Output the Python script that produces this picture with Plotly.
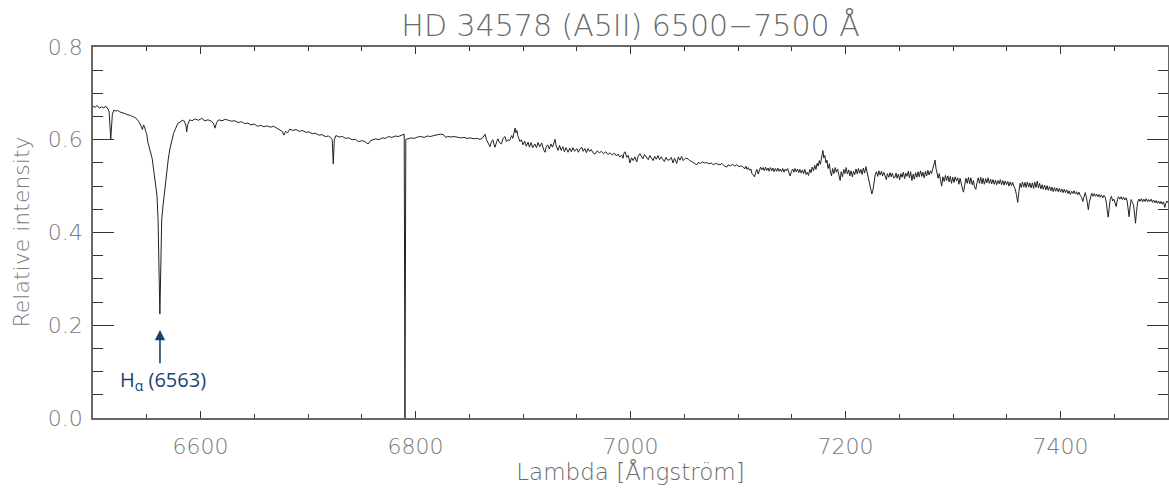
import plotly.graph_objects as go

# ---- data (wavelength [Å], relative intensity) ----
SEG_BLUE_HALPHA = [
    (6500, 0.672), (6502, 0.670), (6504, 0.674), (6506, 0.668), (6508, 0.671), (6510, 0.669),
    (6512, 0.672), (6514, 0.666), (6515, 0.660), (6516.5, 0.600), (6518, 0.655), (6519.5, 0.664),
    (6521, 0.662), (6523, 0.663), (6525, 0.660), (6527, 0.659), (6529, 0.657), (6531, 0.655),
    (6533, 0.654), (6535, 0.652), (6537, 0.650), (6539, 0.648), (6541, 0.644), (6543, 0.638),
    (6545, 0.628), (6546, 0.622), (6547, 0.632), (6548, 0.628), (6549, 0.618), (6550, 0.612),
    (6551, 0.595), (6553, 0.575), (6555, 0.560), (6557, 0.525), (6558.5, 0.500), (6559.5, 0.480),
    (6560.5, 0.430), (6561.3, 0.330), (6562.2, 0.224), (6563.1, 0.330), (6563.9, 0.427),
    (6565, 0.455), (6567, 0.499), (6568.5, 0.530), (6570, 0.558), (6571.5, 0.580), (6573, 0.598),
    (6575, 0.614), (6577, 0.625), (6579, 0.636), (6581, 0.638), (6583, 0.642), (6585, 0.640),
    (6586.5, 0.630), (6587.2, 0.617), (6588, 0.632), (6590, 0.643),
]
SEG_6590_6860 = [
    (6592, 0.641), (6595, 0.645), (6598, 0.642), (6601, 0.646), (6604, 0.641), (6607, 0.643),
    (6610, 0.640), (6612, 0.636), (6613.5, 0.625), (6615, 0.637), (6617, 0.643), (6620, 0.641),
    (6623, 0.644), (6626, 0.642), (6629, 0.640), (6632, 0.641), (6635, 0.637), (6638, 0.639),
    (6641, 0.635), (6644, 0.636), (6647, 0.632), (6650, 0.634), (6653, 0.629), (6656, 0.631),
    (6659, 0.628), (6662, 0.630), (6665, 0.627), (6668, 0.629), (6671, 0.625), (6674, 0.622),
    (6676, 0.618), (6677.7, 0.610), (6679, 0.618), (6681, 0.615), (6683, 0.623), (6686, 0.620),
    (6689, 0.622), (6692, 0.618), (6695, 0.620), (6698, 0.616), (6701, 0.617), (6704, 0.613),
    (6707, 0.614), (6710, 0.610), (6713, 0.611), (6716, 0.607), (6719, 0.608), (6721, 0.605),
    (6722.5, 0.600), (6723.5, 0.548), (6724.5, 0.600), (6726, 0.609), (6729, 0.606), (6732, 0.607),
    (6735, 0.603), (6738, 0.604), (6741, 0.600), (6744, 0.601), (6747, 0.596), (6750, 0.598),
    (6752, 0.597), (6754, 0.594), (6756, 0.591), (6758, 0.598), (6760, 0.600), (6763, 0.602),
    (6766, 0.600), (6769, 0.604), (6772, 0.603), (6775, 0.607), (6778, 0.605), (6781, 0.608),
    (6784, 0.607), (6787, 0.610), (6789.5, 0.612), (6790.2, 0.0), (6791, 0.601), (6793, 0.602),
    (6796, 0.604), (6799, 0.603), (6802, 0.606), (6805, 0.607), (6808, 0.605), (6811, 0.608),
    (6814, 0.607), (6817, 0.609), (6820, 0.610), (6823, 0.612), (6826, 0.611), (6828, 0.605),
    (6830, 0.607), (6833, 0.606), (6836, 0.607), (6839, 0.605), (6842, 0.604), (6845, 0.605),
    (6848, 0.603), (6851, 0.604), (6854, 0.602), (6857, 0.603), (6860, 0.601),
]
SEG_6860_7000 = [
    (6862, 0.603), (6864.7, 0.612), (6866, 0.600), (6867.5, 0.592), (6869.3, 0.585), (6870.5, 0.595),
    (6872, 0.600), (6873, 0.590), (6874, 0.584), (6875.5, 0.596), (6876.7, 0.602), (6878, 0.594),
    (6880, 0.591), (6881.5, 0.603), (6883.3, 0.607), (6884.5, 0.596), (6886, 0.600), (6887.5, 0.598),
    (6889.5, 0.609), (6890.5, 0.603), (6891.5, 0.614), (6892.6, 0.625), (6893.5, 0.615), (6894.3, 0.620),
    (6895, 0.610), (6896, 0.601), (6897.2, 0.596), (6898.5, 0.600), (6900, 0.589), (6901.5, 0.597),
    (6903, 0.586), (6904.7, 0.595), (6906, 0.584), (6907.5, 0.594), (6909, 0.583), (6911, 0.591),
    (6912.5, 0.583), (6914, 0.594), (6915.5, 0.585), (6917.4, 0.593), (6918.5, 0.583), (6919.5, 0.577),
    (6920.5, 0.573), (6921.5, 0.584), (6923, 0.589), (6924.5, 0.580), (6926, 0.591), (6927.5, 0.584),
    (6929, 0.595), (6929.8, 0.601), (6930.8, 0.587), (6932.6, 0.577), (6934, 0.588), (6935.5, 0.577),
    (6937, 0.585), (6938.5, 0.574), (6940, 0.583), (6941.9, 0.573), (6943.5, 0.582), (6945, 0.574),
    (6946.5, 0.583), (6948, 0.575), (6950, 0.581), (6951.5, 0.573), (6953, 0.580), (6954.6, 0.584),
    (6956, 0.575), (6957.5, 0.581), (6959, 0.572), (6960.5, 0.581), (6962, 0.575), (6963.5, 0.579),
    (6965, 0.572), (6967, 0.569), (6969, 0.576), (6971, 0.572), (6973, 0.575), (6975, 0.570),
    (6977, 0.574), (6979, 0.568), (6981, 0.572), (6983, 0.567), (6985, 0.571), (6987, 0.565),
    (6988.4, 0.569), (6990, 0.563), (6992, 0.567), (6993, 0.560), (6994, 0.572), (6995, 0.574),
    (6996.5, 0.562), (6998, 0.566), (6999.5, 0.550),
]
SEG_7000_7105 = [
    (7001, 0.561), (7002.5, 0.555), (7004, 0.563), (7005.8, 0.552), (7007, 0.564), (7008.8, 0.570),
    (7010, 0.565), (7011.5, 0.559), (7013, 0.568), (7015, 0.562), (7016.5, 0.557), (7018, 0.566),
    (7019.5, 0.559), (7021, 0.555), (7022.5, 0.564), (7024, 0.558), (7025.5, 0.566), (7027, 0.557),
    (7028.5, 0.563), (7030, 0.558), (7031.5, 0.553), (7033, 0.562), (7034.5, 0.556), (7036.7, 0.557),
    (7038, 0.562), (7039.5, 0.550), (7041, 0.560), (7043, 0.549), (7044.5, 0.563), (7046, 0.556),
    (7047.5, 0.564), (7049, 0.555), (7051, 0.560), (7053.5, 0.559), (7055, 0.555), (7057, 0.553),
    (7059, 0.550), (7061.6, 0.546), (7063, 0.551), (7065, 0.549), (7067, 0.552), (7069, 0.550),
    (7070.9, 0.551), (7073, 0.548), (7075, 0.550), (7077, 0.546), (7079, 0.549), (7081, 0.547),
    (7083.3, 0.546), (7085, 0.549), (7087, 0.544), (7089.5, 0.541), (7091, 0.546), (7093, 0.544),
    (7095, 0.547), (7097, 0.543), (7098.8, 0.546), (7101, 0.542), (7103, 0.544),
]
SEG_7105_7245 = [
    (7105, 0.541), (7106.2, 0.537), (7107.4, 0.543), (7108.5, 0.536), (7109.6, 0.540), (7110.8, 0.534),
    (7112, 0.537), (7113, 0.527), (7114.2, 0.524), (7115.4, 0.520), (7116.5, 0.530), (7117.6, 0.536),
    (7118.8, 0.526), (7120, 0.533), (7121, 0.541), (7122.2, 0.535), (7123.4, 0.540), (7124.5, 0.533),
    (7125.6, 0.541), (7126.8, 0.534), (7128, 0.539), (7129, 0.532), (7130.2, 0.540), (7131.4, 0.533),
    (7132.5, 0.539), (7133.6, 0.531), (7134.8, 0.538), (7136, 0.532), (7137, 0.539), (7138.2, 0.532),
    (7139.4, 0.537), (7140.5, 0.531), (7141.6, 0.538), (7142.8, 0.530), (7144, 0.537), (7145, 0.533),
    (7146.2, 0.538), (7147.4, 0.529), (7148.5, 0.522), (7149.6, 0.531), (7150.8, 0.537), (7152, 0.530),
    (7153, 0.538), (7154.2, 0.531), (7155.4, 0.537), (7156.5, 0.529), (7157.6, 0.536), (7158.8, 0.528),
    (7160, 0.535), (7161, 0.527), (7162.2, 0.536), (7163.4, 0.525), (7164.5, 0.530), (7165.6, 0.523),
    (7166.8, 0.536), (7168, 0.529), (7169, 0.541), (7170.2, 0.533), (7171.4, 0.545), (7172.5, 0.536),
    (7173.6, 0.549), (7174.6, 0.543), (7175.6, 0.555), (7176.6, 0.547), (7177.6, 0.562), (7178.4, 0.570),
    (7179, 0.577), (7179.8, 0.561), (7180.8, 0.566), (7181.8, 0.550), (7182.8, 0.556), (7183.8, 0.538),
    (7185, 0.548), (7186, 0.530), (7187, 0.522), (7188, 0.538), (7189.2, 0.527), (7190.4, 0.540),
    (7191.5, 0.530), (7192.6, 0.537), (7193.8, 0.522), (7195, 0.512), (7196, 0.531), (7197.2, 0.520),
    (7198.4, 0.536), (7199.5, 0.527), (7200.6, 0.540), (7201.8, 0.526), (7203, 0.535), (7204, 0.522),
    (7205.2, 0.533), (7206.4, 0.520), (7207.5, 0.532), (7208.6, 0.525), (7209.8, 0.537), (7211, 0.526),
    (7212, 0.538), (7213.2, 0.528), (7214.4, 0.536), (7215.5, 0.525), (7216.6, 0.539), (7217.8, 0.528),
    (7219, 0.542), (7220, 0.530), (7221.2, 0.522), (7222.4, 0.508), (7223.5, 0.496), (7224.5, 0.483),
    (7225.4, 0.490), (7226.4, 0.510), (7227.6, 0.524), (7228.8, 0.531), (7230, 0.521), (7231, 0.533),
    (7232.2, 0.524), (7233.4, 0.532), (7234.5, 0.522), (7235.6, 0.530), (7236.8, 0.519), (7238, 0.514),
    (7239, 0.527), (7240.2, 0.519), (7241.4, 0.529), (7242.5, 0.520), (7243.6, 0.528), (7244.8, 0.518),
]
SEG_7245_7500 = [
    (7246, 0.519), (7247, 0.528), (7248, 0.517), (7249.2, 0.526), (7250.4, 0.514), (7251.5, 0.527),
    (7252.6, 0.519), (7253.8, 0.530), (7255, 0.516), (7256, 0.528), (7257.2, 0.521), (7258.4, 0.532),
    (7259.5, 0.518), (7260.6, 0.531), (7261.8, 0.512), (7263, 0.526), (7264, 0.515), (7265.2, 0.529),
    (7266.4, 0.519), (7267.5, 0.531), (7268.6, 0.520), (7269.8, 0.533), (7271, 0.521), (7272, 0.530),
    (7273.2, 0.518), (7274.4, 0.532), (7275.5, 0.522), (7276.6, 0.534), (7277.8, 0.524), (7279, 0.533),
    (7280, 0.527), (7281.2, 0.537), (7282.3, 0.548), (7283.3, 0.556), (7284.2, 0.538), (7285.2, 0.526),
    (7286.2, 0.517), (7287.2, 0.527), (7288.4, 0.512), (7289.5, 0.500), (7290.6, 0.520), (7291.8, 0.510),
    (7293, 0.523), (7294, 0.512), (7295.2, 0.522), (7296.4, 0.509), (7297.5, 0.521), (7298.6, 0.506),
    (7299.8, 0.519), (7301, 0.508), (7302, 0.520), (7303.2, 0.511), (7304.4, 0.518), (7305.5, 0.504),
    (7306.6, 0.517), (7307.8, 0.500), (7309, 0.492), (7309.8, 0.487), (7311, 0.507), (7312, 0.517),
    (7313.2, 0.506), (7314.4, 0.519), (7315.5, 0.505), (7316.6, 0.518), (7317.8, 0.503), (7319, 0.512),
    (7320, 0.498), (7321.2, 0.493), (7322.4, 0.508), (7323.5, 0.518), (7324.6, 0.506), (7325.8, 0.519),
    (7327, 0.505), (7328, 0.517), (7329.2, 0.504), (7330.4, 0.516), (7331.5, 0.507), (7332.6, 0.518),
    (7333.8, 0.506), (7335, 0.515), (7336, 0.505), (7337.2, 0.514), (7338.4, 0.504), (7339.5, 0.513),
    (7340.6, 0.503), (7341.8, 0.512), (7343, 0.505), (7344, 0.514), (7345.2, 0.503), (7346.4, 0.512),
    (7347.5, 0.502), (7348.6, 0.511), (7349.8, 0.503), (7351, 0.510), (7352, 0.500), (7353.2, 0.509),
    (7354.4, 0.501), (7355.5, 0.508), (7356.6, 0.500), (7357.8, 0.494), (7359, 0.482), (7360.2, 0.465),
    (7361.3, 0.488), (7362.4, 0.506), (7363.5, 0.497), (7364.6, 0.509), (7365.8, 0.498), (7367, 0.508),
    (7368, 0.497), (7369.2, 0.509), (7370.4, 0.498), (7371.5, 0.507), (7372.6, 0.496), (7373.8, 0.507),
    (7375, 0.495), (7376, 0.509), (7377.2, 0.497), (7378.4, 0.511), (7379.5, 0.496), (7380.6, 0.506),
    (7381.8, 0.494), (7383, 0.503), (7384, 0.493), (7385.2, 0.502), (7386.4, 0.492), (7387.5, 0.501),
    (7388.6, 0.491), (7389.8, 0.499), (7391, 0.490), (7392, 0.498), (7393.2, 0.488), (7394.4, 0.497),
    (7395.5, 0.489), (7396.6, 0.496), (7397.8, 0.488), (7399, 0.495), (7400, 0.487), (7401.2, 0.494),
    (7402.4, 0.486), (7403.5, 0.493), (7404.6, 0.486), (7405.8, 0.492), (7407, 0.484), (7408, 0.490),
    (7409.2, 0.482), (7410.4, 0.489), (7411.5, 0.484), (7412.6, 0.490), (7413.8, 0.483), (7415, 0.488),
    (7416, 0.481), (7417.2, 0.487), (7418.4, 0.480), (7419.5, 0.476), (7420.8, 0.467), (7422, 0.482),
    (7423, 0.486), (7424.2, 0.475), (7425.2, 0.458), (7425.9, 0.449), (7426.8, 0.465), (7428, 0.481),
    (7429, 0.485), (7430.2, 0.478), (7431.4, 0.484), (7432.5, 0.478), (7433.6, 0.483), (7434.8, 0.477),
    (7436, 0.482), (7437, 0.476), (7438.2, 0.481), (7439.4, 0.475), (7440.5, 0.480), (7441.6, 0.476),
    (7442.8, 0.462), (7443.6, 0.444), (7444.4, 0.433), (7445.3, 0.452), (7446.2, 0.471), (7447.4, 0.478),
    (7448.5, 0.468), (7449.6, 0.472), (7450.8, 0.460), (7451.8, 0.456), (7453, 0.472), (7454, 0.477),
    (7455.2, 0.472), (7456.4, 0.477), (7457.5, 0.471), (7458.6, 0.476), (7459.8, 0.470), (7461, 0.475),
    (7462, 0.468), (7463, 0.452), (7463.8, 0.434), (7464.7, 0.455), (7465.8, 0.471), (7467, 0.464),
    (7468, 0.459), (7469, 0.438), (7469.8, 0.420), (7470.7, 0.445), (7471.8, 0.466), (7473, 0.472),
    (7474, 0.467), (7475.2, 0.473), (7476.4, 0.466), (7477.5, 0.472), (7478.6, 0.467), (7479.8, 0.473),
    (7481, 0.466), (7482, 0.471), (7483.2, 0.467), (7484.4, 0.472), (7485.5, 0.465), (7486.6, 0.470),
    (7487.8, 0.464), (7489, 0.469), (7490, 0.463), (7491.2, 0.468), (7492.4, 0.462), (7493.5, 0.467),
    (7494.6, 0.461), (7495.8, 0.466), (7497, 0.454), (7498, 0.463), (7499, 0.468), (7500, 0.464),
]

X_RANGE = [6500, 7500]
Y_RANGE = [0.0, 0.8]
X_TICKS = [6600, 6800, 7000, 7200, 7400]
Y_TICKS = [0.0, 0.2, 0.4, 0.6, 0.8]
HALPHA_WAVELENGTH = 6562.3
HALPHA_LABEL = "H<sub>α</sub> (6563)"

segments = [SEG_BLUE_HALPHA, SEG_6590_6860, SEG_6860_7000, SEG_7000_7105, SEG_7105_7245, SEG_7245_7500]
wavelength = [p[0] for seg in segments for p in seg]
intensity = [p[1] for seg in segments for p in seg]

FONT = "DejaVu Sans"
GRAY_TXT = "#7a7a7a"
AXIS_COL = "#666666"
TICK_COL = "#333333"
NAVY = "#1b4470"

fig = go.Figure()
fig.add_trace(go.Scatter(x=wavelength, y=intensity, mode="lines",
                         line=dict(color="#222222", width=1), hoverinfo="skip"))
# invisible trace so that the top/right tick axes are drawn
fig.add_trace(go.Scatter(x=[X_RANGE[0]], y=[Y_RANGE[0]], xaxis="x2", yaxis="y2", mode="markers",
                         marker=dict(opacity=0), hoverinfo="skip"))

fig.update_layout(
    width=1169, height=493,
    margin=dict(l=93, r=1, t=47, b=75),
    paper_bgcolor="white", plot_bgcolor="white",
    showlegend=False,
    title=dict(text="HD 34578 (A5II) 6500−7500 Å", x=0.5, xref="paper", xanchor="center",
               y=1 - 25 / 493, yref="container", yanchor="middle",
               font=dict(family=FONT, size=30, color="#6a6a6a", weight=200)),
    font=dict(family=FONT, color=GRAY_TXT),
)

common_x = dict(
    range=X_RANGE, tickvals=X_TICKS,
    ticks="inside", ticklen=7, tickwidth=1.2, tickcolor=TICK_COL,
    minor=dict(dtick=50, tick0=6500, ticks="inside", ticklen=4, tickwidth=1, tickcolor=TICK_COL),
    showline=True, linecolor=AXIS_COL, linewidth=1.5,
    showgrid=False, zeroline=False,
)
common_y = dict(
    range=Y_RANGE, tickvals=Y_TICKS, tickformat=".1f",
    ticks="inside", ticklen=21, tickwidth=1.2, tickcolor=TICK_COL,
    minor=dict(dtick=0.05, tick0=0, ticks="inside", ticklen=10, tickwidth=1, tickcolor=TICK_COL),
    showline=True, linecolor=AXIS_COL, linewidth=1.5,
    showgrid=False, zeroline=False,
)

fig.update_layout(
    xaxis=dict(
        **common_x,
        ticktext=[str(v) for v in X_TICKS],
        tickfont=dict(family=FONT, size=22, color=GRAY_TXT, weight=200),
        ticklabelstandoff=8,
        title=dict(text="Lambda [Ångström]", standoff=5,
                   font=dict(family=FONT, size=23, color="#6a6a6a", weight=200)),
    ),
    yaxis=dict(
        **common_y,
        tickfont=dict(family=FONT, size=22, color=GRAY_TXT, weight=200),
        ticklabelstandoff=4,
    ),
    xaxis2=dict(**common_x, overlaying="x", side="top", anchor="y", showticklabels=False),
    yaxis2=dict(**common_y, overlaying="y", side="right", anchor="x", showticklabels=False),
)

# y-axis title placed to match the reference position
fig.add_annotation(text="Relative intensity", xref="paper", yref="paper",
                   x=(21 - 93) / 1075, y=0.5, xanchor="center", yanchor="middle",
                   textangle=-90, showarrow=False,
                   font=dict(family=FONT, size=22, color="#7a7a7a", weight=200))

# H-alpha arrow and label
fig.add_annotation(x=HALPHA_WAVELENGTH, y=0.19, ax=HALPHA_WAVELENGTH, ay=0.115,
                   xref="x", yref="y", axref="x", ayref="y", text="",
                   showarrow=True, arrowhead=2, arrowsize=1.3, arrowwidth=1.6, arrowcolor=NAVY)
fig.add_annotation(x=HALPHA_WAVELENGTH + 2.5, y=0.08, xref="x", yref="y",
                   text=HALPHA_LABEL, showarrow=False,
                   font=dict(family="Open Sans", size=20, color=NAVY))

fig.write_html("out.html")
